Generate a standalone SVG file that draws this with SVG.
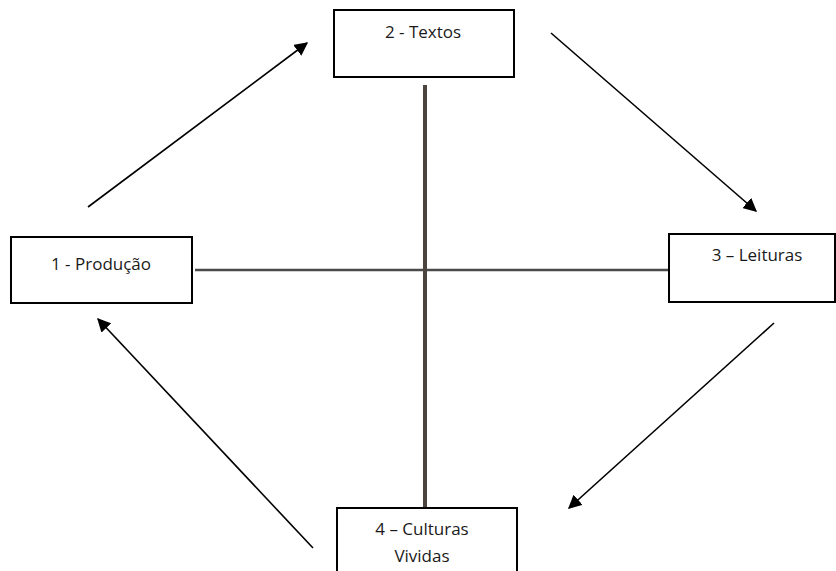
<svg xmlns="http://www.w3.org/2000/svg" width="836" height="571" viewBox="0 0 836 571">
<style>
.box{fill:#fff;stroke:#000;stroke-width:2}
.t{font-family:"Open Sans","Liberation Sans",sans-serif;font-size:17px;fill:#1a1a1a;text-anchor:middle}
.arr{stroke:#000;stroke-width:1.6;fill:none;marker-end:url(#ah)}
</style>
<defs>
<marker id="ah" viewBox="0 0 10 10" refX="9" refY="5" markerWidth="8.5" markerHeight="8.5" markerUnits="strokeWidth" orient="auto">
<path d="M0,0 L10,5 L0,10 z" fill="#000"/>
</marker>
</defs>
<rect width="836" height="571" fill="#fff"/>
<g id="connectors">
<line x1="195" y1="270" x2="668" y2="270" stroke="#4a4a4a" stroke-width="2.5"/>
<line x1="425" y1="85" x2="425" y2="508" stroke="#4a4540" stroke-width="4"/>
<line class="arr" x1="88" y1="207" x2="307" y2="43"/>
<line class="arr" x1="551" y1="33" x2="756" y2="211"/>
<line class="arr" x1="774" y1="323" x2="569" y2="508"/>
<line class="arr" x1="313" y1="548" x2="98" y2="319"/>
</g>
<g id="n2">
<rect class="box" x="334" y="10" width="180" height="67"/>
<text class="t" x="423" y="38">2 - Textos</text>
</g>
<g id="n1">
<rect class="box" x="11" y="237" width="181" height="66"/>
<text class="t" x="101" y="270">1 - Produção</text>
</g>
<g id="n3">
<rect class="box" x="669" y="234" width="166" height="68"/>
<text class="t" x="757" y="261">3 – Leituras</text>
</g>
<g id="n4">
<rect class="box" x="337" y="508" width="180" height="70"/>
<text class="t" x="422" y="535">4 – Culturas</text>
<text class="t" x="422" y="562">Vividas</text>
</g>
</svg>
